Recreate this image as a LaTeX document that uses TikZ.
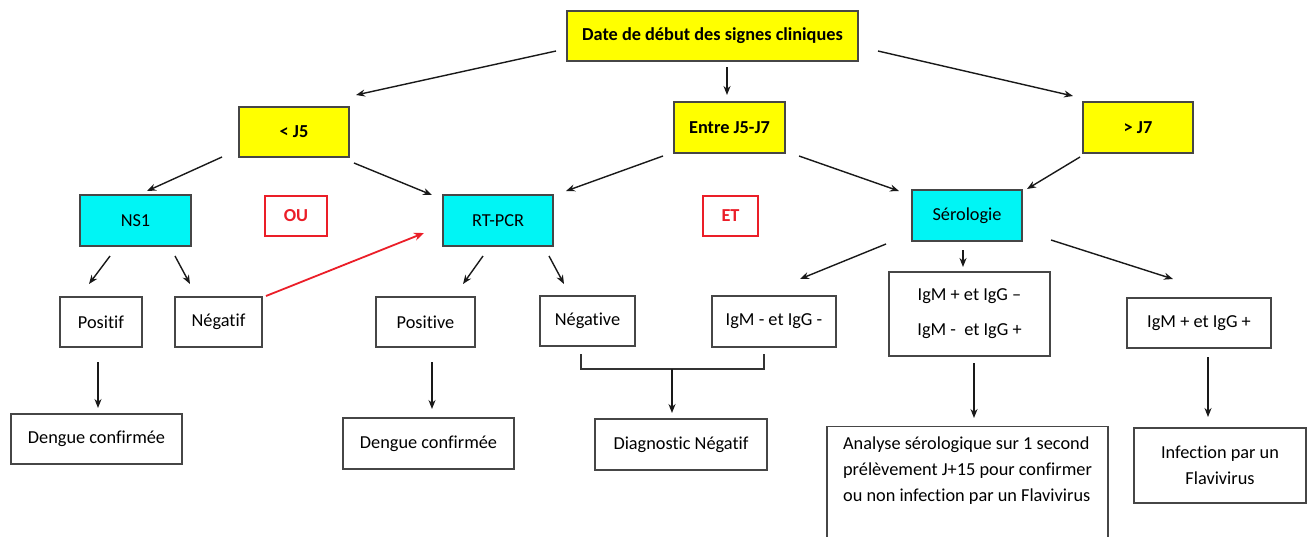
\documentclass[tikz,border=0pt]{standalone}
\usepackage{fontspec}
\setmainfont{Carlito}[Ligatures={NoCommon}]
\usetikzlibrary{arrows.meta}
\definecolor{yel}{RGB}{255,255,0}
\definecolor{cya}{RGB}{0,245,245}
\definecolor{redc}{RGB}{235,30,40}
\definecolor{edge}{RGB}{70,70,70}
\begin{document}
\begin{tikzpicture}[x=1pt,y=-1pt,
  box/.style={draw=edge,line width=1.3pt,inner sep=0pt,align=center,
    font=\fontsize{18.3}{22}\selectfont},
  ybox/.style={box,fill=yel,font=\fontsize{18.3}{22}\selectfont\bfseries},
  cbox/.style={box,fill=cya},
  rbox/.style={draw=redc,line width=1.6pt,inner sep=0pt,text=redc,
    font=\fontsize{18.3}{22}\selectfont\bfseries},
  arr/.style={-{Stealth[length=9pt,width=7pt]},line width=1.4pt,draw=black!90},
  rarr/.style={arr,draw=redc,line width=1.8pt,-{Stealth[length=10pt,width=8pt]}},
  plain/.style={line width=1.2pt,draw=black!80}]
\clip (0,0) rectangle (1309,536);
\fill[white] (0,0) rectangle (1309,536);
% level 0
\node[ybox,minimum width=291,minimum height=50] (top) at (712.5,36) {Date de début des signes cliniques};
% level 1
\node[ybox,minimum width=110,minimum height=50] (j5) at (294,132) {< J5};
\node[ybox,minimum width=111,minimum height=51] (entre) at (729.5,127.5) {Entre J5-J7};
\node[ybox,minimum width=110,minimum height=51] (j7) at (1138,127.5) {> J7};
% level 2
\node[cbox,minimum width=111,minimum height=51] (ns1) at (135.5,220.5) {NS1};
\node[rbox,minimum width=62,minimum height=40] (ou) at (296,216) {OU};
\node[cbox,minimum width=110,minimum height=51] (rtpcr) at (498,220.5) {RT-PCR};
\node[rbox,minimum width=55,minimum height=40] (et) at (730.5,216) {ET};
\node[cbox,minimum width=110,minimum height=51] (sero) at (967,215.5) {Sérologie};
% level 3
\node[box,minimum width=82,minimum height=50] (positif) at (101,322) {Positif};
\node[box,minimum width=87,minimum height=50] (negatif) at (218.5,322) {Négatif};
\node[box,minimum width=99,minimum height=50] (positive) at (425.5,322) {Positive};
\node[box,minimum width=95,minimum height=50] (negative) at (587.5,321) {Négative};
\node[box,minimum width=124,minimum height=51] (igmm) at (774,321.5) {IgM - et IgG -};
\node[box,minimum width=161,minimum height=84,font=\fontsize{18.3}{35}\selectfont] (igmid) at (969.5,314) {IgM + et IgG –\\IgM -\ \ et IgG +};
\node[box,minimum width=144,minimum height=50] (igmpp) at (1199,323) {IgM + et IgG +};
% level 4
\node[box,minimum width=171,minimum height=50] (dengue1) at (96.5,439) {Dengue confirmée};
\node[box,minimum width=171,minimum height=51] (dengue2) at (428.5,443.5) {Dengue confirmée};
\node[box,minimum width=172,minimum height=51] (diag) at (681,444.5) {Diagnostic Négatif};
\node[box,minimum width=281,minimum height=130,anchor=north,
  label={[anchor=north,yshift=-11pt,align=left,inner sep=0pt,
    font=\fontsize{18.3}{26}\selectfont]north:{Analyse sérologique sur 1 second\\prélèvement J+15 pour confirmer\\ou non infection par un Flavivirus}}] (analyse) at (967.5,426) {};
\node[box,minimum width=172,minimum height=75,font=\fontsize{18.3}{26}\selectfont] (infect) at (1220,465.5) {Infection par un\\Flavivirus};
% connector end points
\coordinate (a1s) at (556,51);   \coordinate (a1e) at (356,95);
\coordinate (a2s) at (727,67);   \coordinate (a2e) at (727,95);
\coordinate (a3s) at (878,51);   \coordinate (a3e) at (1073,96);
\coordinate (b1s) at (222,157);  \coordinate (b1e) at (147,191);
\coordinate (b2s) at (354,163);  \coordinate (b2e) at (432,195);
\coordinate (b3s) at (663,156);  \coordinate (b3e) at (566,191);
\coordinate (b4s) at (799,156);  \coordinate (b4e) at (899,191);
\coordinate (b5s) at (1080,157); \coordinate (b5e) at (1027,189);
\coordinate (c1s) at (110,256);  \coordinate (c1e) at (89,284);
\coordinate (c2s) at (175,256);  \coordinate (c2e) at (190,284);
\coordinate (c3s) at (483,256);  \coordinate (c3e) at (463,284);
\coordinate (c4s) at (549,256);  \coordinate (c4e) at (564,284);
\coordinate (c5s) at (886,244);  \coordinate (c5e) at (800,279);
\coordinate (c6s) at (963,250);  \coordinate (c6e) at (963,267);
\coordinate (c7s) at (1051,240); \coordinate (c7e) at (1173,279);
\coordinate (rs) at (266,296);   \coordinate (re) at (424,233);
\coordinate (d1s) at (98,362);   \coordinate (d1e) at (98,408);
\coordinate (d2s) at (432,362);  \coordinate (d2e) at (432,409);
\coordinate (k1) at (581,354);   \coordinate (k2) at (581,369);
\coordinate (k3) at (764,369);   \coordinate (k4) at (764,354);
\coordinate (d3s) at (672,369);  \coordinate (d3e) at (672,413);
\coordinate (d4s) at (974,363);  \coordinate (d4e) at (974,418);
\coordinate (d5s) at (1208,357); \coordinate (d5e) at (1208,417);
% connectors
\draw[arr] (a1s) -- (a1e);
\draw[arr] (a2s) -- (a2e);
\draw[arr] (a3s) -- (a3e);
\draw[arr] (b1s) -- (b1e);
\draw[arr] (b2s) -- (b2e);
\draw[arr] (b3s) -- (b3e);
\draw[arr] (b4s) -- (b4e);
\draw[arr] (b5s) -- (b5e);
\draw[arr] (c1s) -- (c1e);
\draw[arr] (c2s) -- (c2e);
\draw[arr] (c3s) -- (c3e);
\draw[arr] (c4s) -- (c4e);
\draw[arr] (c5s) -- (c5e);
\draw[arr] (c6s) -- (c6e);
\draw[arr] (c7s) -- (c7e);
\draw[rarr] (rs) -- (re);
\draw[arr] (d1s) -- (d1e);
\draw[arr] (d2s) -- (d2e);
\draw[plain] (k1) -- (k2) -- (k3) -- (k4);
\draw[arr] (d3s) -- (d3e);
\draw[arr] (d4s) -- (d4e);
\draw[arr] (d5s) -- (d5e);
\end{tikzpicture}
\end{document}
